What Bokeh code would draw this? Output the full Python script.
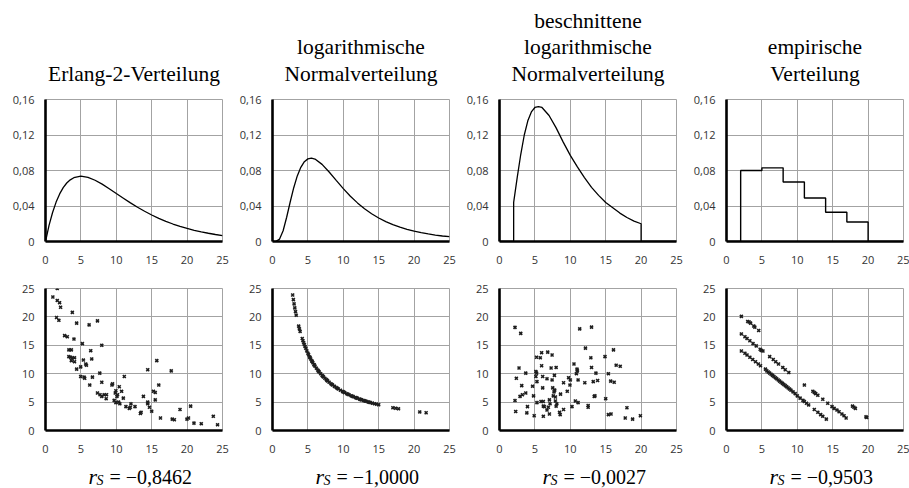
from bokeh.plotting import figure
from bokeh.layouts import row, column
from bokeh.models import FixedTicker, Label
from bokeh.embed import file_html
from bokeh.resources import INLINE

# ---------------- data ----------------
titles = [["Erlang-2-Verteilung"],
          ["logarithmische", "Normalverteilung"],
          ["beschnittene", "logarithmische", "Normalverteilung"],
          ["empirische", "Verteilung"]]
rs_values = ["−0,8462", "−1,0000", "−0,0027", "−0,9503"]

x_ticks = [0, 5, 10, 15, 20, 25]
x_tick_labels = ["0", "5", "10", "15", "20", "25"]
pdf_ticks = [0, 0.04, 0.08, 0.12, 0.16]
pdf_tick_labels = ["0", "0,04", "0,08", "0,12", "0,16"]
sc_ticks = [0, 5, 10, 15, 20, 25]
sc_tick_labels = ["0", "5", "10", "15", "20", "25"]

# Erlang-2 density
erl_x = [0, 0.5, 1, 1.5, 2, 2.5, 3, 3.5, 4, 5, 6, 7, 8, 9, 10, 11, 12, 13, 14, 15, 16, 17, 18, 19, 20,
         21, 22, 23, 24, 25]
erl_y = [0, 0.0181, 0.0327, 0.0444, 0.0536, 0.0607, 0.0659, 0.0695, 0.0719, 0.0736, 0.0723, 0.0690,
         0.0646, 0.0595, 0.0541, 0.0488, 0.0435, 0.0386, 0.0341, 0.0299, 0.0261, 0.0227, 0.0197,
         0.0170, 0.0147, 0.0126, 0.0108, 0.0093, 0.0079, 0.0067]

# log-normal density
ln_x = [0, 0.5, 1, 1.5, 2, 2.5, 3, 3.5, 4, 4.5, 5, 5.5, 6, 7, 8, 9, 10, 11, 12, 13, 14, 15, 16, 17, 18,
        19, 20, 21, 22, 23, 24, 25]
ln_y = [0, 0.0001, 0.0027, 0.0121, 0.0273, 0.0445, 0.0606, 0.0739, 0.0836, 0.0899, 0.0931, 0.0939,
        0.0929, 0.0869, 0.0783, 0.0688, 0.0596, 0.0510, 0.0435, 0.0369, 0.0313, 0.0265, 0.0224,
        0.0190, 0.0161, 0.0137, 0.0116, 0.0099, 0.0085, 0.0073, 0.0062, 0.0054]

# truncated log-normal density
tln_x = [0, 2, 2, 2.5, 3, 3.5, 4, 4.5, 5, 5.5, 6, 7, 8, 9, 10, 11, 12, 13, 14, 15, 16, 17, 18, 19, 20,
         20, 25]
tln_y = [0, 0, 0.044, 0.072, 0.098, 0.120, 0.136, 0.146, 0.151, 0.152, 0.151, 0.142, 0.128, 0.112,
         0.097, 0.084, 0.072, 0.061, 0.052, 0.044, 0.038, 0.032, 0.027, 0.023, 0.020, 0, 0]

# empirical (step) density
emp_x = [0, 2, 5, 8, 11, 14, 17, 20, 25]
emp_y = [0, 0.080, 0.083, 0.067, 0.049, 0.033, 0.022, 0, 0]

# scatter 1 (Erlang)
s1_x = [1.04, 1.66, 1.66, 1.99, 2.13, 1.56, 1.89, 3.79, 4.40, 6.16, 7.34, 2.70, 3.08, 4.02, 5.21, 7.95,
        3.30, 3.65, 6.39, 3.30, 3.55, 3.80, 4.10, 3.65, 4.10, 5.35, 6.53, 5.68, 5.78, 4.40, 4.97, 7.67,
        4.97, 5.45, 5.54, 6.63, 11.13, 6.25, 7.95, 9.47, 9.38, 7.34, 7.70, 7.95, 8.29, 8.62, 8.57, 9.94,
        9.85, 10.42, 10.75, 10.18, 10.09, 9.70, 9.94, 10.33, 10.50, 10.99, 11.36, 11.84, 11.98, 12.07,
        12.64, 13.40, 13.50, 13.83, 14.44, 14.44, 14.44, 14.68, 15.00, 15.25, 15.50, 15.50, 15.72,
        16.00, 16.24, 17.76, 17.90, 18.20, 19.00, 19.98, 20.20, 20.50, 20.97, 22.00, 23.70, 24.30]
s1_y = [23.5, 25.0, 22.9, 22.5, 21.7, 19.9, 19.4, 20.8, 18.9, 18.6, 19.3, 16.7, 16.5, 16.1, 15.3, 15.0,
        14.2, 14.2, 14.05, 13.0, 12.9, 12.8, 12.8, 12.3, 12.1, 12.4, 12.6, 11.7, 11.5, 10.8, 11.2, 10.1,
        9.5, 9.4, 9.2, 9.4, 9.5, 8.0, 8.5, 8.2, 8.0, 6.6, 6.3, 6.0, 6.3, 6.3, 5.6, 7.0, 6.6, 7.7, 6.9,
        6.3, 6.0, 5.3, 4.9, 5.0, 4.7, 5.7, 4.2, 3.9, 4.1, 4.7, 4.2, 3.0, 3.2, 6.0, 10.7, 5.0, 4.7, 4.1,
        3.4, 6.9, 6.7, 5.4, 12.3, 8.0, 2.2, 10.5, 2.0, 1.9, 3.7, 2.0, 2.2, 4.3, 1.3, 1.2, 2.5, 1.0]

# scatter 2 (log-normal)
s2_x = [2.85, 2.95, 3.05, 3.15, 3.25, 3.35, 3.7, 3.8, 3.9, 4.2, 4.3, 4.4, 4.5, 4.6, 4.7, 4.85, 5.0, 5.1,
        5.25, 5.3, 5.4, 5.55, 5.6, 5.7, 5.85, 5.9, 6.0, 6.2, 6.4, 6.5, 6.6, 6.8, 7.0, 7.1, 7.2, 7.4, 7.6,
        7.7, 7.8, 8.0, 8.25, 8.4, 8.5, 8.75, 9.0, 9.15, 9.3, 9.6, 9.9, 10.0, 10.2, 10.5, 10.65, 10.8,
        11.1, 11.25, 11.4, 11.7, 11.85, 12.0, 12.3, 12.45, 12.6, 12.9, 13.05, 13.2, 13.5, 13.65, 13.8,
        14.1, 14.4, 14.7, 15.0, 17.0, 17.4, 17.8, 20.8, 21.7]
s2_y = [23.86, 23.05, 22.30, 21.59, 20.92, 20.30, 18.38, 17.89, 17.44, 16.19, 15.81, 15.45, 15.11,
        14.78, 14.47, 14.02, 13.60, 13.33, 12.95, 12.83, 12.59, 12.25, 12.14, 11.93, 11.62, 11.53,
        11.33, 10.97, 10.63, 10.46, 10.30, 10.00, 9.71, 9.58, 9.44, 9.19, 8.95, 8.83, 8.72, 8.50, 8.24,
        8.10, 8.00, 7.77, 7.56, 7.43, 7.31, 7.08, 6.87, 6.80, 6.67, 6.48, 6.38, 6.30, 6.13, 6.04, 5.96,
        5.81, 5.74, 5.67, 5.53, 5.46, 5.40, 5.27, 5.21, 5.15, 5.04, 4.98, 4.93, 4.82, 4.72, 4.63, 4.53,
        4.00, 3.91, 3.82, 3.27, 3.13]

# scatter 3 (truncated log-normal)
s3_x = [2.19, 3.00, 2.19, 2.29, 2.76, 2.38, 3.14, 2.90, 3.24, 3.71, 3.71, 3.95, 3.86, 4.67, 4.81, 4.90,
        5.14, 5.14, 5.24, 5.24, 5.29, 5.29, 5.76, 5.95, 5.95, 6.10, 6.10, 5.86, 6.19, 6.19, 6.33, 6.19,
        6.71, 6.81, 6.90, 6.71, 7.05, 7.14, 7.05, 7.29, 7.43, 7.43, 7.52, 7.60, 7.70, 7.80, 7.90, 7.76,
        8.00, 7.90, 8.10, 8.00, 8.48, 8.57, 8.62, 9.05, 9.05, 9.57, 9.76, 9.95, 10.00, 10.24, 10.52,
        10.71, 10.95, 11.00, 10.86, 11.10, 11.10, 11.33, 12.05, 12.14, 12.52, 12.52, 12.90, 13.00,
        13.00, 13.24, 13.38, 13.48, 13.62, 13.86, 14.90, 15.00, 15.38, 15.38, 15.76, 15.71, 16.10,
        16.20, 16.48, 17.05, 18.00, 17.76, 18.80, 19.90]
s3_y = [18.15, 17.1, 5.27, 3.34, 11.0, 9.19, 7.9, 6.0, 6.3, 6.6, 10.1, 4.2, 3.1, 7.8, 6.1, 2.6, 10.4,
        9.5, 10.1, 12.9, 8.6, 4.9, 12.8, 13.7, 11.4, 9.5, 7.5, 5.1, 5.1, 4.3, 4.2, 2.5, 9.1, 13.8, 4.1,
        3.6, 5.4, 4.7, 2.9, 11.0, 13.3, 8.9, 7.5, 6.1, 6.8, 7.1, 5.9, 9.7, 11.1, 5.2, 4.7, 4.3, 3.2,
        2.8, 6.4, 8.4, 3.7, 6.9, 9.3, 8.0, 8.9, 4.2, 11.7, 5.2, 10.8, 10.5, 10.0, 8.9, 4.9, 17.9, 8.4,
        14.5, 4.4, 4.1, 12.8, 11.1, 18.2, 8.6, 6.0, 6.1, 10.1, 8.8, 13.0, 5.6, 10.0, 2.8, 2.9, 8.7,
        14.2, 8.5, 11.5, 11.3, 4.0, 2.2, 2.0, 2.6]

# scatter 4 (empirical)
s4_x = [2.1, 3.0, 3.2, 3.4, 3.85, 4.0, 4.55, 17.8, 18.0, 18.2, 19.7, 19.8,
        2.1, 2.6, 2.9, 3.3, 3.75, 4.2, 4.75, 4.9, 5.15, 6.1, 6.6, 6.95, 7.35, 7.95, 8.3, 8.8, 11.0,
        12.2, 12.4, 12.6, 12.9, 13.6, 14.3, 14.9, 15.2, 15.6, 15.9, 16.3, 16.6, 16.9,
        2.1, 2.6, 2.9, 3.3, 3.7, 4.1, 4.5, 4.8, 5.5, 5.7, 5.9, 6.1, 6.3, 6.5, 6.7, 6.9, 7.1, 7.3, 7.5,
        7.7, 7.9, 8.1, 8.3, 8.5, 8.7, 8.9, 9.1, 9.4, 9.7, 10.0, 10.4, 10.8, 11.0, 11.3, 11.6, 12.4,
        12.9, 13.3, 13.6, 14.1]
s4_y = [20.1, 19.2, 19.1, 18.9, 18.4, 18.2, 17.6, 4.3, 4.1, 3.9, 2.4, 2.3,
        17.0, 16.5, 16.2, 15.8, 15.3, 14.9, 14.3, 14.1, 14.0, 13.0, 12.5, 12.1, 11.7, 11.1, 10.7, 10.2,
        8.0, 6.9, 6.7, 6.5, 6.2, 5.5, 4.8, 4.2, 3.9, 3.6, 3.3, 2.9, 2.6, 2.2,
        14.0, 13.6, 13.3, 12.9, 12.5, 12.1, 11.7, 11.4, 10.8, 10.5, 10.3, 10.1, 9.9, 9.7, 9.5, 9.3, 9.1,
        8.9, 8.7, 8.5, 8.3, 8.1, 7.9, 7.7, 7.5, 7.3, 7.1, 6.8, 6.5, 6.1, 5.7, 5.3, 5.1, 4.8, 4.5, 3.7,
        3.2, 2.8, 2.5, 2.0]

curves = [(erl_x, erl_y, "line"), (ln_x, ln_y, "line"), (tln_x, tln_y, "line"), (emp_x, emp_y, "step")]
scatters = [(s1_x, s1_y), (s2_x, s2_y), (s3_x, s3_y), (s4_x, s4_y)]

# ---------------- layout / style ----------------
FW, FH = 177, 142
LBS = [45, 43, 43, 43]
RBS = [7, 7, 7, 6]
TITLE_H = 91
PLOT_TOP = 8
TOP_B = 17
AX_B = 30
RS_H = 28
GRID = "#a3a3a3"
TICK_FONT = "Open Sans"
SERIF = "Liberation Serif"


def style(p, yt, ytl):
    p.xaxis.ticker = FixedTicker(ticks=x_ticks)
    p.xaxis.major_label_overrides = {t: l for t, l in zip(x_ticks, x_tick_labels)}
    p.yaxis.ticker = FixedTicker(ticks=yt)
    p.yaxis.major_label_overrides = {t: l for t, l in zip(yt, ytl)}
    for ax in (p.xaxis, p.yaxis):
        ax.axis_line_width = 2.6
        ax.axis_line_color = "black"
        ax.major_tick_line_color = None
        ax.minor_tick_line_color = None
        ax.major_tick_out = 0
        ax.major_tick_in = 0
        ax.major_label_text_font = TICK_FONT
        ax.major_label_text_font_size = "11px"
        ax.major_label_text_color = "#333333"
    p.xaxis.major_label_standoff = 14
    p.yaxis.major_label_standoff = 11
    p.grid.grid_line_color = GRID
    p.grid.grid_line_width = 1
    p.outline_line_color = GRID
    p.outline_line_width = 1
    p.background_fill_color = "white"
    p.border_fill_color = "white"


def text_fig(w, h):
    t = figure(width=w, height=h, x_range=(0, w), y_range=(0, h), x_axis_type=None, y_axis_type=None,
               output_backend="svg", toolbar_location=None, title=None,
               min_border_left=0, min_border_right=0, min_border_top=0, min_border_bottom=0)
    t.grid.visible = False
    t.outline_line_color = None
    t.background_fill_color = "white"
    t.border_fill_color = "white"
    return t


heads, tops, bots, feet = [], [], [], []
for i in range(4):
    lb, rb = LBS[i], RBS[i]
    w = lb + FW + rb

    # title block
    h = text_fig(w, TITLE_H)
    offs = [18, 44.5, 71]
    for k, txt in enumerate(reversed(titles[i])):
        h.add_layout(Label(x=lb + FW / 2, y=offs[k], text=txt, text_align="center",
                           text_baseline="alphabetic", text_font=SERIF, text_font_size="21.5px",
                           text_color="black"))
    heads.append(h)

    # density plot
    p = figure(width=w, height=PLOT_TOP + FH + AX_B, x_range=(0, 25), y_range=(0, 0.16),
               output_backend="svg", toolbar_location=None, title=None,
               min_border_left=lb, min_border_right=rb, min_border_top=PLOT_TOP, min_border_bottom=AX_B)
    style(p, pdf_ticks, pdf_tick_labels)
    cx, cy, kind = curves[i]
    if kind == "step":
        p.step(cx, cy, mode="after", line_color="black", line_width=1.4)
    else:
        p.line(cx, cy, line_color="black", line_width=1.3)
    tops.append(p)

    # scatter plot
    q = figure(width=w, height=TOP_B + FH + AX_B, x_range=(0, 25), y_range=(0, 25),
               output_backend="svg", toolbar_location=None, title=None,
               min_border_left=lb, min_border_right=rb, min_border_top=TOP_B, min_border_bottom=AX_B)
    style(q, sc_ticks, sc_tick_labels)
    sx, sy = scatters[i]
    q.scatter(sx, sy, marker="x", size=4.2, line_width=1.6, line_color="#1e1e1e")
    bots.append(q)

    # r_S label
    f = text_fig(w, RS_H)
    base = 12
    f.add_layout(Label(x=lb + 43, y=base, text="r", text_font=SERIF, text_font_size="22px",
                       text_font_style="italic", text_baseline="alphabetic", text_color="black"))
    f.add_layout(Label(x=lb + 51, y=base - 4, text="S", text_font=SERIF, text_font_size="14px",
                       text_font_style="italic", text_baseline="alphabetic", text_color="black"))
    f.add_layout(Label(x=lb + 64, y=base, text="= " + rs_values[i], text_font=SERIF,
                       text_font_size="20px", text_baseline="alphabetic", text_color="black"))
    feet.append(f)

layout = column(row(*heads, spacing=0), row(*tops, spacing=0), row(*bots, spacing=0),
                row(*feet, spacing=0), spacing=0)
open("out.html", "w").write(file_html(layout, INLINE))
